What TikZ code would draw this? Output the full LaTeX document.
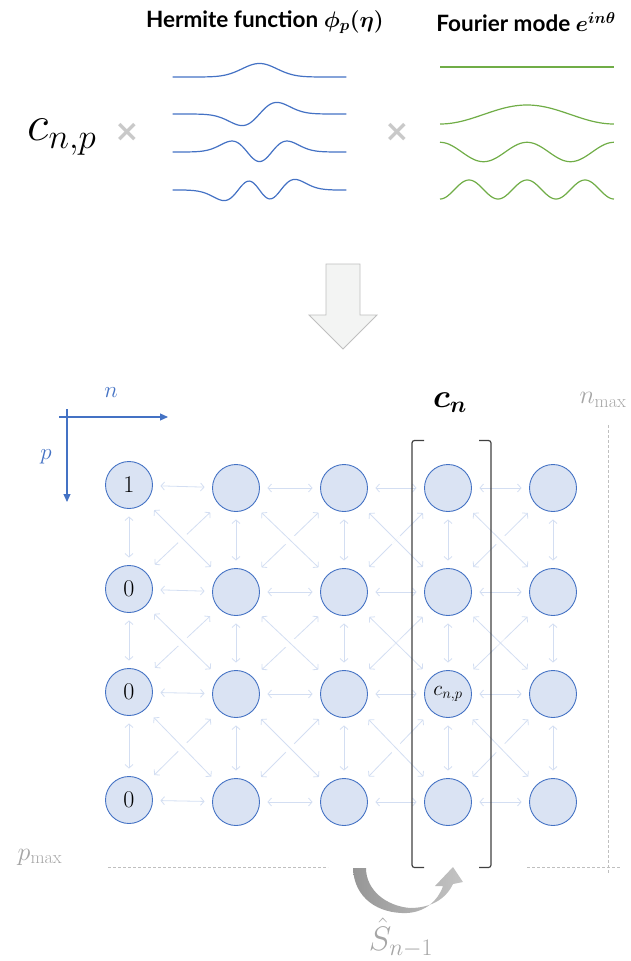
\RequirePackage{fix-cm}
\documentclass[tikz,border=0pt]{standalone}
\usepackage{amsmath}
\usepackage{bm}
\usepackage{fontspec}
\newfontfamily\lato{Lato}
\newfontfamily\symfont{DejaVu Sans}
\usetikzlibrary{arrows.meta}
\definecolor{nodeblue}{HTML}{4472C4}
\definecolor{nodefill}{HTML}{DAE3F3}
\definecolor{arrowcol}{HTML}{D3DEF2}
\definecolor{fourgreen}{HTML}{70AD47}
\definecolor{crossgray}{HTML}{C9C9C9}
\definecolor{labgray}{HTML}{A6A6A6}
\definecolor{dashgray}{HTML}{BFBFBF}
\definecolor{brackcol}{HTML}{404040}
\definecolor{bigfill}{HTML}{F3F4F3}
\definecolor{bigdraw}{HTML}{BFBFBF}
\definecolor{arrowdark}{HTML}{969696}
\definecolor{arrowlight}{HTML}{C4C4C4}
\begin{document}
\begin{tikzpicture}[x=1pt,y=-1pt,
  gnode/.style={circle, draw=nodeblue, fill=nodefill, line width=0.9pt, minimum size=47pt, inner sep=0pt, font=\fontsize{24}{24}\selectfont},
  garrow/.style={draw=arrowcol, line width=0.8pt, {Straight Barb[length=3.5pt,width=8pt]}-{Straight Barb[length=3.5pt,width=8pt]}, shorten <=7.5pt, shorten >=7.5pt},
  gdiag/.style={garrow, shorten <=11.5pt, shorten >=11.5pt},
  ghalo/.style={draw=white, line width=12pt, shorten <=49pt, shorten >=49pt},
  hcurve/.style={draw=nodeblue, line width=1.2pt},
  fcurve/.style={draw=fourgreen, line width=1.2pt},
  bracket/.style={draw=brackcol, line width=1.2pt, rounded corners=2.5pt},
  axisarrow/.style={draw=nodeblue, line width=1.1pt, -{Triangle[length=8pt,width=7pt]}},
  dashline/.style={draw=dashgray, line width=1pt, dash pattern=on 3pt off 2pt},
  graylab/.style={text=labgray},
  title/.style={font=\lato\bfseries\fontsize{22.5}{23}\selectfont}
]
\useasboundingbox (0,0) rectangle (630,961);

% ---- top part ----
\node[title] (t1) at (265,22) {Hermite function $\bm{\phi_p(\eta)}$};
\node[title] (t2) at (526,22) {Fourier mode $\bm{e^{in\theta}}$};
\node (cnp) at (62,137) {\fontsize{50}{50}\selectfont$c_{n,p}$};
\node[text=crossgray] (x1) at (127,132) {\symfont\bfseries\fontsize{30}{30}\selectfont ×};
\node[text=crossgray] (x2) at (397,132) {\symfont\bfseries\fontsize{30}{30}\selectfont ×};

\draw[hcurve] plot[domain=-5:5, samples=121, smooth] ({259.5+17.4*\x}, {77-18*0.7511*exp(-0.5*(\x)*(\x))});
\draw[hcurve] plot[domain=-5:5, samples=121, smooth] ({259.5+17.4*\x}, {114-18*1.0622*(\x)*exp(-0.5*(\x)*(\x))});
\draw[hcurve] plot[domain=-5:5, samples=121, smooth] ({259.5+17.4*\x}, {152-18*0.5311*(2*(\x)*(\x)-1)*exp(-0.5*(\x)*(\x))});
\draw[hcurve] plot[domain=-5:5, samples=121, smooth] ({259.5+17.4*\x}, {190-18*0.4336*(2*(\x)*(\x)*(\x)-3*(\x))*exp(-0.5*(\x)*(\x))});

\draw[fcurve] plot[domain=0:1, samples=2] ({440+174*\x}, 67);
\draw[fcurve] plot[domain=0:1, samples=81, smooth] ({440+174*\x}, {114.5+9.5*cos(360*\x)});
\draw[fcurve] plot[domain=0:1, samples=101, smooth] ({440+174*\x}, {152-9.7*cos(720*\x)});
\draw[fcurve] plot[domain=0:1, samples=121, smooth] ({440+174*\x}, {189.5+9.5*cos(1080*\x)});

% ---- big down arrow ----
\draw[draw=bigdraw, fill=bigfill, line width=0.8pt] (326,264) -- (360,264) -- (360,315) -- (377,315) -- (343,349) -- (309,315) -- (326,315) -- cycle;

% ---- grid nodes ----
\node[gnode] (n11) at (129,485) {1};
\node[gnode] (n12) at (129,589) {0};
\node[gnode] (n13) at (129,692) {0};
\node[gnode] (n14) at (129,800) {0};
\node[gnode] (n21) at (236,488) {};
\node[gnode] (n22) at (236,592) {};
\node[gnode] (n23) at (236,694) {};
\node[gnode] (n24) at (236,802) {};
\node[gnode] (n31) at (344,488) {};
\node[gnode] (n32) at (344,592) {};
\node[gnode] (n33) at (344,694) {};
\node[gnode] (n34) at (344,802) {};
\node[gnode] (n41) at (448,488) {};
\node[gnode] (n42) at (448,592) {};
\node[gnode] (n43) at (448,694) {\fontsize{21}{21}\selectfont$c_{n,p}$};
\node[gnode] (n44) at (448,802) {};
\node[gnode] (n51) at (553,488) {};
\node[gnode] (n52) at (553,592) {};
\node[gnode] (n53) at (553,694) {};
\node[gnode] (n54) at (553,802) {};

% horizontal arrows
\foreach \r in {1,...,4}{
  \foreach \c [evaluate=\c as \d using {int(\c+1)}] in {1,...,4}{
    \draw[garrow] (n\c\r) -- (n\d\r);
  }
}
% vertical arrows
\foreach \c in {1,...,5}{
  \foreach \r [evaluate=\r as \s using {int(\r+1)}] in {1,2,3}{
    \draw[garrow] (n\c\r) -- (n\c\s);
  }
}
% diagonal arrows
\foreach \c [evaluate=\c as \d using {int(\c+1)}] in {1,...,4}{
  \foreach \r [evaluate=\r as \s using {int(\r+1)}] in {1,2,3}{
    \draw[gdiag] (n\d\r) -- (n\c\s);
    \draw[ghalo] (n\c\r) -- (n\d\s);
    \draw[gdiag] (n\c\r) -- (n\d\s);
  }
}

% ---- axes ----
\coordinate (ax0) at (59,417);
\coordinate (ax1) at (168,417);
\coordinate (ay0) at (67,409);
\coordinate (ay1) at (67,502);
\draw[axisarrow] (ax0) -- (ax1);
\draw[axisarrow] (ay0) -- (ay1);
\node[text=nodeblue] (nlab) at (111,393) {\fontsize{23}{23}\selectfont$n$};
\node[text=nodeblue] (plab) at (46,457) {\fontsize{23}{23}\selectfont$p$};

% ---- bracket ----
\draw[bracket] (424,440.5) -- (412,440.5) -- (412,867.5) -- (424,867.5);
\draw[bracket] (479,440.5) -- (491,440.5) -- (491,867.5) -- (479,867.5);
\node (cn) at (450,403) {\fontsize{33}{33}\selectfont$\bm{c_n}$};

% ---- limits ----
\coordinate (dl0) at (108,867);
\coordinate (dl1) at (328,867);
\coordinate (dr0) at (527,867);
\coordinate (dr1) at (620,867);
\coordinate (dv0) at (608,425);
\coordinate (dv1) at (608,873);
\draw[dashline] (dl0) -- (dl1);
\draw[dashline] (dr0) -- (dr1);
\draw[dashline] (dv0) -- (dv1);
\node[graylab] (nmax) at (603,400) {\fontsize{26}{26}\selectfont$n_{\max}$};
\node[graylab] (pmax) at (40,857) {\fontsize{26}{26}\selectfont$p_{\max}$};

% ---- curved shift arrow ----
\shade[left color=arrowdark, right color=arrowlight]
  (353,868) .. controls (354,898) and (378,914) .. (407,913)
  .. controls (425,912) and (438,901) .. (443,886)
  -- (435,886) -- (453,867) -- (463,882) -- (453,884)
  .. controls (445,901) and (428,908) .. (410,908)
  .. controls (386,906) and (366,890) .. (366,868) -- cycle;
\node[graylab] (shat) at (401,938) {\fontsize{34}{34}\selectfont$\hat{S}_{n-1}$};
\end{tikzpicture}
\end{document}
